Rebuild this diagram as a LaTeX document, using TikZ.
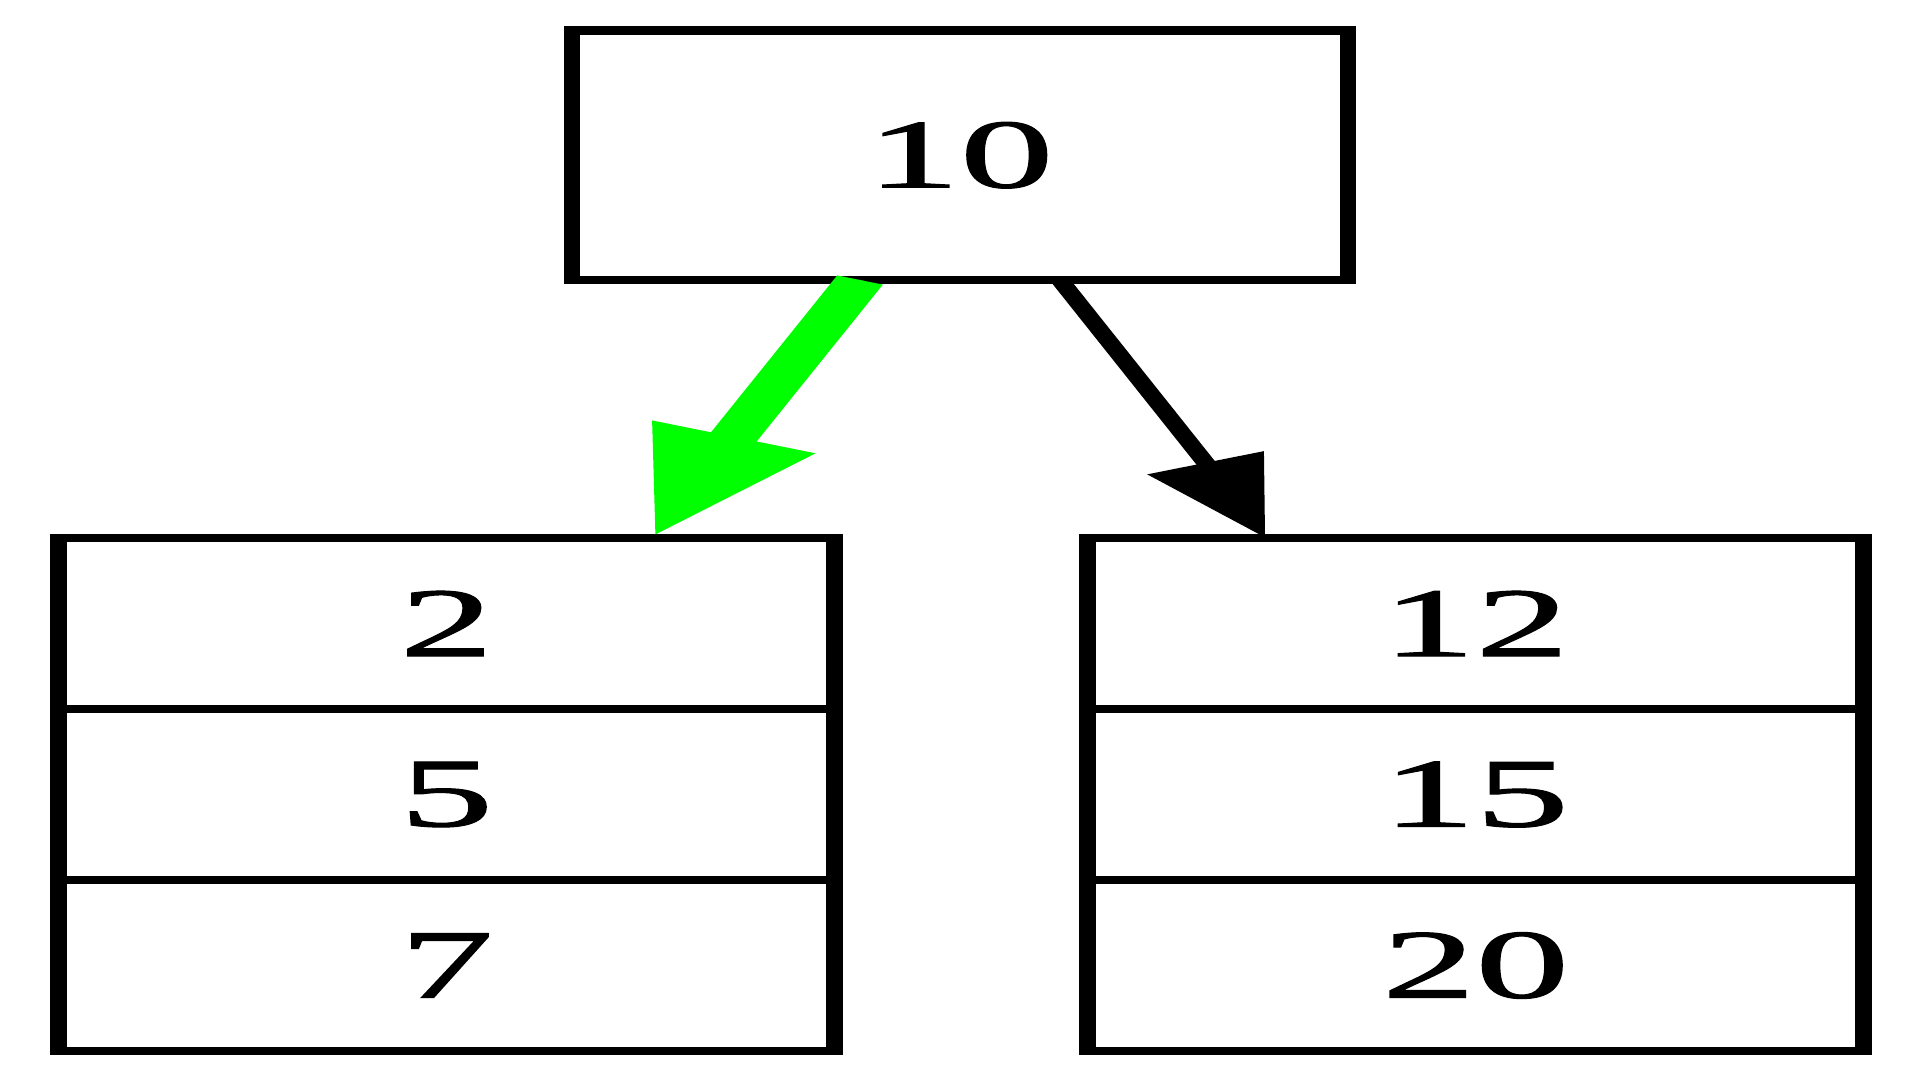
\documentclass[tikz,border=0pt]{standalone}
\usepackage{fontspec}
\setmainfont{Liberation Serif}
\newfontfamily\keyfont{Liberation Serif}[FakeBold=1]
\usepackage{graphicx}
\usepackage{tikz}
\usetikzlibrary{arrows.meta}

\definecolor{hitgreen}{RGB}{0,255,0}
\newcommand{\keytext}[1]{\scalebox{0.95}[1]{#1}}

\begin{document}
\begin{tikzpicture}[
    key/.style={rectangle, draw, line width=2.4pt, outer sep=0pt, minimum width=3.88cm, font=\keyfont\fontsize{28}{34}\selectfont},
    root/.style={key, minimum height=2.495cm},
    cell/.style={key, minimum height=1.71cm},
    link/.style={line width=2.8pt, -{Triangle[length=0.81cm, width=0.6cm]}},
    hit/.style={line width=7pt, draw=hitgreen, -{Triangle[length=1.09cm, width=0.8cm]}},
]

\useasboundingbox (0, 0) rectangle (19.2, -10.8);

% the whole tree is stretched sideways
\begin{scope}[transform canvas={xscale=2}]

% Draw the nodes
\node[root] (root) at (4.8, -1.5525) {\keytext{10}};

\node[cell] (l2) at (2.2325, -6.235) {\keytext{2}};
\node[cell] (l5) at (2.2325, -7.945) {\keytext{5}};
\node[cell] (l7) at (2.2325, -9.655) {\keytext{7}};

\node[cell] (r12) at (7.3775, -6.235) {\keytext{12}};
\node[cell] (r15) at (7.3775, -7.945) {\keytext{15}};
\node[cell] (r20) at (7.3775, -9.655) {\keytext{20}};

% Draw the edges
\draw[hit] ([xshift=-0.5cm]root.south) -- ([xshift=1.03cm]l2.north);
\draw[link] ([xshift=0.5cm]root.south) -- ([xshift=-1.05cm]r12.north);

\end{scope}
\end{tikzpicture}
\end{document}
